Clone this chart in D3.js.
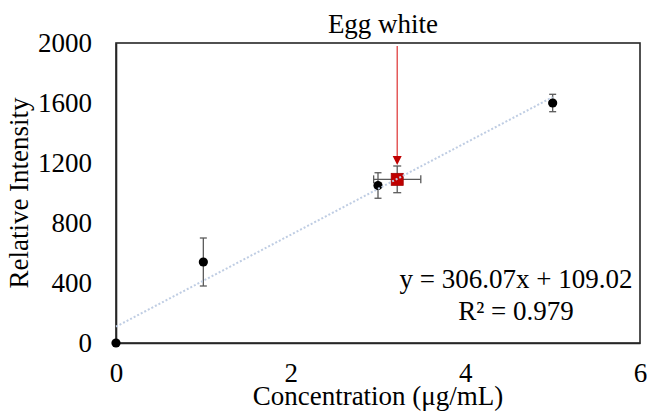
<!DOCTYPE html>
<html>
<head>
<meta charset="utf-8">
<script src="https://cdn.jsdelivr.net/npm/d3@7"></script>
<style>
  html, body { margin: 0; padding: 0; background: #fff; }
  svg text { font-family: "Liberation Serif", "Times New Roman", serif; fill: #000; }
</style>
</head>
<body>
<svg id="chart" width="647" height="413"></svg>
<script>
// Calibration standards (concentration in µg/mL vs. relative intensity)
const stdConc = [0, 1, 3, 5];
const stdIntensity = [0, 540, 1050, 1600];
const stdIntensityErr = [0, 160, 85, 58];

// Egg white sample
const sampleLabel = "Egg white";
const sampleConc = [3.22];
const sampleIntensity = [1091];
const sampleConcErr = [0.27];
const sampleIntensityErr = [89];

// Linear fit
const fitSlope = 306.07;
const fitIntercept = 109.02;
const fitR2 = "0.979";
const fitRange = [0, 5];

const xTicks = [0, 2, 4, 6];
const yTicks = [0, 400, 800, 1200, 1600, 2000];

const margin = { left: 116, right: 7, top: 43, bottom: 70 };
const W = 647, H = 413;
const svg = d3.select("#chart");

const x = d3.scaleLinear().domain([0, 6]).range([margin.left, W - margin.right]);
const y = d3.scaleLinear().domain([0, 2000]).range([H - margin.bottom, margin.top]);

const fontSize = 27;
const lineColor = "#262626";
const errColor = "#5a5a5a";

// Plot frame
svg.append("rect")
  .attr("x", x(0)).attr("y", y(2000))
  .attr("width", x(6) - x(0)).attr("height", y(0) - y(2000))
  .attr("fill", "none").attr("stroke", lineColor).attr("stroke-width", 1.6);

// Axes (labels only, no tick marks)
const xAxis = svg.append("g")
  .attr("transform", `translate(0,${y(0)})`)
  .call(d3.axisBottom(x).tickValues(xTicks).tickSize(0).tickPadding(20).tickFormat(d3.format("d")));
const yAxis = svg.append("g")
  .attr("transform", `translate(${x(0)},0)`)
  .call(d3.axisLeft(y).tickValues(yTicks).tickSize(0).tickPadding(24).tickFormat(d3.format("d")));
[xAxis, yAxis].forEach(g => {
  g.select(".domain").attr("stroke", lineColor).attr("stroke-width", 1.6);
  g.selectAll("text").attr("font-size", fontSize).attr("font-family", "Liberation Serif, Times New Roman, serif").attr("fill", "#000");
});

// Axis titles
svg.append("text")
  .attr("x", (x(0) + x(6)) / 2).attr("y", 405)
  .attr("text-anchor", "middle").attr("font-size", fontSize)
  .text("Concentration (\u03bcg/mL)");
svg.append("text")
  .attr("transform", `translate(28,${(y(0) + y(2000)) / 2}) rotate(-90)`)
  .attr("text-anchor", "middle").attr("font-size", fontSize)
  .text("Relative Intensity");

// Vertical error bars for standards
const stdData = stdConc.map((c, i) => ({ c, v: stdIntensity[i], e: stdIntensityErr[i] }));
const errG = svg.append("g").attr("stroke", errColor).attr("stroke-width", 1.3);
stdData.filter(d => d.e > 0).forEach(d => {
  errG.append("line").attr("x1", x(d.c)).attr("x2", x(d.c)).attr("y1", y(d.v - d.e)).attr("y2", y(d.v + d.e));
  [d.v - d.e, d.v + d.e].forEach(v => {
    errG.append("line").attr("x1", x(d.c) - 3.5).attr("x2", x(d.c) + 3.5).attr("y1", y(v)).attr("y2", y(v));
  });
});

// Sample error bars (both directions)
const sample = sampleConc.map((c, i) => ({ c, v: sampleIntensity[i], ex: sampleConcErr[i], ey: sampleIntensityErr[i] }));
sample.forEach(d => {
  errG.append("line").attr("x1", x(d.c)).attr("x2", x(d.c)).attr("y1", y(d.v - d.ey)).attr("y2", y(d.v + d.ey));
  [d.v - d.ey, d.v + d.ey].forEach(v => {
    errG.append("line").attr("x1", x(d.c) - 4).attr("x2", x(d.c) + 4).attr("y1", y(v)).attr("y2", y(v));
  });
  errG.append("line").attr("x1", x(d.c - d.ex)).attr("x2", x(d.c + d.ex)).attr("y1", y(d.v)).attr("y2", y(d.v));
  [d.c - d.ex, d.c + d.ex].forEach(c => {
    errG.append("line").attr("x1", x(c)).attr("x2", x(c)).attr("y1", y(d.v) - 4).attr("y2", y(d.v) + 4);
  });
});

// Standard markers
svg.append("g").selectAll("circle").data(stdData).join("circle")
  .attr("cx", d => x(d.c)).attr("cy", d => y(d.v)).attr("r", 4.6).attr("fill", "#000");

// Sample marker
svg.append("g").selectAll("rect").data(sample).join("rect")
  .attr("x", d => x(d.c) - 6).attr("y", d => y(d.v) - 6)
  .attr("width", 12).attr("height", 12)
  .attr("fill", "#c00000").attr("stroke", "#a00000").attr("stroke-width", 0.8);

// Trendline (dotted, drawn on top)
svg.append("line")
  .attr("x1", x(fitRange[0])).attr("y1", y(fitSlope * fitRange[0] + fitIntercept))
  .attr("x2", x(fitRange[1])).attr("y2", y(fitSlope * fitRange[1] + fitIntercept))
  .attr("stroke", "#bfcde3").attr("stroke-width", 2)
  .attr("stroke-dasharray", "2 2");

// Callout arrow pointing at the sample
const s0 = sample[0];
const tipY = y(s0.v + s0.ey) - 1;
const ax = x(s0.c);
svg.append("line")
  .attr("x1", ax).attr("x2", ax).attr("y1", y(2000) + 3).attr("y2", tipY - 8)
  .attr("stroke", "#e04040").attr("stroke-width", 1.3);
svg.append("path")
  .attr("d", `M${ax - 4.5},${tipY - 9} L${ax + 4.5},${tipY - 9} L${ax},${tipY} Z`)
  .attr("fill", "#c00000");
svg.append("text")
  .attr("x", 383).attr("y", 33)
  .attr("text-anchor", "middle").attr("font-size", fontSize)
  .text(sampleLabel);

// Fit equation
svg.append("text")
  .attr("x", 516).attr("y", 288)
  .attr("text-anchor", "middle").attr("font-size", fontSize)
  .text(`y = ${fitSlope}x + ${fitIntercept}`);
svg.append("text")
  .attr("x", 516).attr("y", 320)
  .attr("text-anchor", "middle").attr("font-size", fontSize)
  .text(`R\u00b2 = ${fitR2}`);
</script>
</body>
</html>
